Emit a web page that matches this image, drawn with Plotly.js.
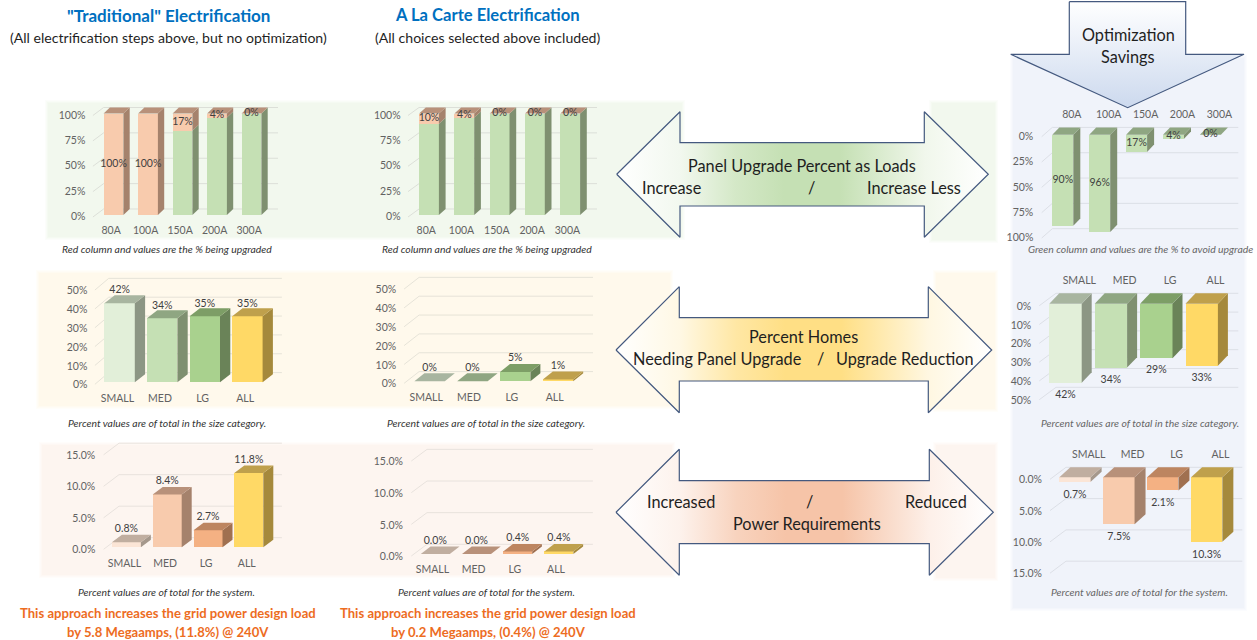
<!DOCTYPE html>
<html><head><meta charset="utf-8">
<script src="https://cdn.plot.ly/plotly-3.0.1.min.js"></script>
<style>html,body{margin:0;padding:0;background:#fff}#c{width:1257px;height:640px}</style></head>
<body><div id="c"></div>
<script>
// ---------- values ----------
const ampCategories = ['80A','100A','150A','200A','300A'];
const sizeCategories = ['SMALL','MED','LG','ALL'];
const panelTicks = [0,25,50,75,100];
const homesTicks = [0,10,20,30,40,50];
const powerTicks = [0,5,10,15];

const tradUpgradedPct = [100,100,17,4,0];
const tradKeptPct     = [0,0,83,96,100];
const carteUpgradedPct = [10,4,0,0,0];
const carteKeptPct     = [90,96,100,100,100];
const savingsPanelPct  = [90,96,17,4,0];

const tradHomesPct    = [42,34,35,35];
const carteHomesPct   = [0,0,5,1];
const savingsHomesPct = [42,34,29,33];

const tradPowerPct    = [0.8,8.4,2.7,11.8];
const cartePowerPct   = [0.0,0.0,0.4,0.4];
const savingsPowerPct = [0.7,7.5,2.1,10.3];

// ---------- styles ----------
const W=1257,H=640, FONT='Lato, Carlito, sans-serif';
const TICK='#626262', LABEL='#404040';
const RED ={f:'#f8cbad',s:'#a5826c',t:'#b8917a'};
const GRN ={f:'#c5e0b4',s:'#7f9070',t:'#8fa682'};
const GSM ={f:'#e2efd9',s:'#8c9684',t:'#a8b5a0'};
const GLG ={f:'#a9d18e',s:'#6a8358',t:'#7d9e66'};
const YEL ={f:'#ffd966',s:'#a5893c',t:'#bfa04c'};
const RSM ={f:'#fbe5d6',s:'#a5988c',t:'#c0aea0'};
const RLG ={f:'#f4b183',s:'#a07050',t:'#bd8560'};
const homesStyle=[GSM,GRN,GLG,YEL], powerStyle=[RSM,RED,RLG,YEL];
const pct0=v=>v+'%', pct1=v=>v.toFixed(1)+'%';

// ---------- geometry of the nine small charts (pixels on the page) ----------
const charts=[
 {cats:ampCategories,ticks:panelTicks,fmt:pct0,stack:[[tradKeptPct,()=>GRN],[tradUpgradedPct,()=>RED]],labelVals:tradUpgradedPct,labelMode:'midTop',tickDy:1.5,
  c0:113.5,pitch:34.5,w:19.8,dx:6.3,fdy:6,y0:215,scale:1.015,gdy:6,gx0:92.9,gx1:103.6,gR:278,labR:83.4,xShift:-2.4,xLabY:230,grid:'#dcdfd8'},
 {cats:ampCategories,ticks:panelTicks,fmt:pct0,stack:[[carteKeptPct,()=>GRN],[carteUpgradedPct,()=>RED]],labelVals:carteUpgradedPct,labelMode:'midTop',tickDy:1.5,
  c0:429,pitch:35.3,w:19.8,dx:6.7,fdy:6,y0:215,scale:1.015,gdy:6,gx0:408,gx1:419,gR:597,labR:398.6,xShift:-2.8,xLabY:230,grid:'#dcdfd8'},
 {cats:ampCategories,ticks:panelTicks,fmt:pct0,stack:[[savingsPanelPct,()=>GRN]],labelVals:savingsPanelPct,labelMode:'mid',invert:true,tickDy:1.5,
  c0:1062.8,pitch:36.9,w:21,dx:7,fdy:7.3,y0:134.7,scale:1.013,gdy:7.3,gx0:1041.7,gx1:1052.3,gR:1238.3,labR:1031.3,xShift:9,xLabY:114,grid:'#dcdfe6'},
 {cats:sizeCategories,ticks:homesTicks,fmt:pct0,stack:[[tradHomesPct,i=>homesStyle[i]]],labelVals:tradHomesPct,labelMode:'above',off:12.3,tickDy:2.5,
  c0:119.6,pitch:42.6,w:30.4,dx:10.3,fdy:8,y0:382.3,scale:1.885,gdy:9.7,gx0:94.9,gx1:108.7,gR:281.9,labR:85.4,xShift:-2.2,xLabY:398.3,grid:'#e6e3d8'},
 {cats:sizeCategories,ticks:homesTicks,fmt:pct0,stack:[[carteHomesPct,i=>homesStyle[i]]],labelVals:carteHomesPct,labelMode:'above',off:13.4,tickDy:2.5,
  c0:429.6,pitch:42.8,w:30.4,dx:10,fdy:8,y0:381.3,scale:1.885,gdy:9.7,gx0:404.1,gx1:419.1,gR:593,labR:394.2,xShift:-3.4,xLabY:397.3,grid:'#e6e3d8'},
 {cats:sizeCategories,ticks:homesTicks,fmt:pct0,stack:[[savingsHomesPct,i=>homesStyle[i]]],labelVals:savingsHomesPct,labelMode:'below',off:12.5,invert:true,tickDy:2.5,
  c0:1065.5,pitch:45.4,w:32.4,dx:10,fdy:10.4,y0:303.7,scale:1.88,gdy:10.4,gx0:1039.3,gx1:1056,gR:1238.3,labR:1029.3,xShift:13.8,xLabY:279.7,grid:'#dcdfe6'},
 {cats:sizeCategories,ticks:powerTicks,fmt:pct1,stack:[[tradPowerPct,i=>powerStyle[i]]],labelVals:tradPowerPct,labelMode:'above',off:12.8,tickDy:2.5,
  c0:126.4,pitch:40.8,w:29,dx:10,fdy:7.5,y0:547.3,scale:6.3,gdy:9.6,gx0:103.6,gx1:119,gR:281.9,labR:93.3,xShift:-2,xLabY:563,grid:'#e8e2dd'},
 {cats:sizeCategories,ticks:powerTicks,fmt:pct1,stack:[[cartePowerPct,i=>powerStyle[i]]],labelVals:cartePowerPct,labelMode:'above',off:13,tickDy:2.5,
  c0:435.3,pitch:41.2,w:29,dx:9.7,fdy:7.5,y0:554,scale:6.33,gdy:9.7,gx0:411.3,gx1:427,gR:592.9,labR:400.9,xShift:-2.9,xLabY:569.7,grid:'#e8e2dd'},
 {cats:sizeCategories,ticks:powerTicks,fmt:pct1,stack:[[savingsPowerPct,i=>powerStyle[i]]],labelVals:savingsPowerPct,labelMode:'below',off:13.3,invert:true,tickDy:2.5,
  c0:1075,pitch:43.9,w:31.3,dx:11,fdy:10,y0:477.3,scale:6.26,gdy:10,gx0:1050,gx1:1066,gR:1242.3,labR:1040,xShift:13.7,xLabY:454,grid:'#dcdfe6'}
];

// ---------- build ----------
const traces=[], shapes=[], annotations=[];
const layout={width:W,height:H,margin:{l:0,r:0,t:0,b:0},paper_bgcolor:'#fff',plot_bgcolor:'rgba(0,0,0,0)',
  showlegend:false,barmode:'stack',bargap:0,hovermode:false,font:{family:FONT,color:TICK},
  xaxis:{domain:[0,1],range:[0,W],visible:false,fixedrange:true},
  yaxis:{domain:[0,1],range:[H,0],visible:false,fixedrange:true}};

function mix(hex,t){const n=parseInt(hex.slice(1),16),c=[n>>16,(n>>8)&255,n&255].map(v=>Math.round(255+(v-255)*t));return `rgb(${c[0]},${c[1]},${c[2]})`;}
function panel(x0,y0,x1,y1,col){
  const steps=[[3,.25],[2,.5],[1,.75],[0,1]];
  steps.forEach(([g,t])=>shapes.push({type:'rect',xref:'paper',yref:'paper',layer:'below',
    x0:(x0-g)/W,x1:(x1+g)/W,y0:1-(y1+g)/H,y1:1-(y0-g)/H,fillcolor:mix(col,t),line:{width:0}}));
}
panel(48,103,682,237,'#f2f8ee'); panel(932,103,995,240,'#f2f8ee');
panel(39,273,670,406,'#fff9ec'); panel(936,273,995,409,'#fff9ec');
panel(42,445,672,575,'#fdf5f0'); panel(936,445,995,578,'#fdf5f0');
panel(1013,58,1244,608,'#f0f3fa');

function hArrow(tipL,backL,backR,tipR,yTop,shTop,yMid,shBot,yBot,col){
  traces.push({x:[tipL,backL,backL,backR,backR,tipR,backR,backR,backL,backL,tipL],
    y:[yMid,yTop,shTop,shTop,yTop,yMid,yBot,shBot,shBot,yBot,yMid],
    type:'scatter',mode:'lines',fill:'toself',line:{color:'#44597f',width:1.2},
    fillgradient:{type:'horizontal',colorscale:[[0,'#ffffff'],[.17,mix(col,.22)],[.32,mix(col,.75)],[.45,col],[.6,col],[.68,mix(col,.75)],[.83,mix(col,.25)],[1,'#ffffff']]},hoverinfo:'skip'});
}
hArrow(616.7,680,924.3,988.3,111.7,142.7,174.3,206,237.3,'#c5e0b4');
hArrow(616,679.3,928.3,991.7,286.7,317.7,350,381,412.7,'#ffdf85');
hArrow(616,679.3,929.3,993.3,449.3,480.7,512.3,543.7,575.3,'#f6c4a8');
traces.push({x:[1069.3,1185.7,1185.7,1244,1127.7,1010.7,1069.3,1069.3],y:[1.7,1.7,54.3,54.3,107.7,54.3,54.3,1.7],
  type:'scatter',mode:'lines',fill:'toself',line:{color:'#44597f',width:1.2},
  fillgradient:{type:'vertical',colorscale:[[0,'#ccd9ee'],[1,'#ffffff']]},hoverinfo:'skip'});

charts.forEach((c,k)=>{
  const id=k+2, xa='x'+id, ya='y'+id, sign=c.invert?-1:1;
  const X=px=>(px-c.c0)/c.pitch;
  const up=(v,px)=>v+sign*px/c.scale;          // value shifted px pixels upward on the page
  const pxToV=py=>sign*(c.y0-py)/c.scale;
  const xL=c.labR+3, xR=c.gR+1;
  const maxT=c.ticks[c.ticks.length-1];
  let yTop,yBot;
  if(c.invert){yTop=c.xLabY+7;yBot=c.y0+maxT*c.scale+6;}
  else{yBot=c.xLabY-8;yTop=c.y0-maxT*c.scale-c.gdy-3;}
  layout['xaxis'+id]={domain:[xL/W,xR/W],range:[X(xL),X(xR)],anchor:ya,side:c.invert?'top':'bottom',fixedrange:true,
    tickmode:'array',tickvals:c.cats.map((_,i)=>i+c.xShift/c.pitch),ticktext:c.cats,ticks:'',showgrid:false,zeroline:false,showline:false,
    tickfont:{size:10.5,color:TICK,family:FONT}};
  layout['yaxis'+id]={domain:[1-yBot/H,1-yTop/H],range:[pxToV(yBot),pxToV(yTop)],anchor:xa,fixedrange:true,
    tickmode:'array',tickvals:c.ticks.map(v=>up(v,-c.tickDy)),ticktext:c.ticks.map(c.fmt),ticks:'',showgrid:false,zeroline:false,showline:false,
    tickfont:{size:10.5,color:TICK,family:FONT}};
  // perspective gridlines
  c.ticks.forEach(v=>{
    shapes.push({type:'path',xref:xa,yref:ya,layer:'below',line:{color:c.grid,width:1},
      path:`M ${X(c.gx0)} ${up(v,-2)} L ${X(c.gx1)} ${up(v,c.gdy)} L ${X(c.gR)} ${up(v,c.gdy)}`});
  });
  // bars and their side / top faces
  const n=c.cats.length, hw=c.w/2/c.pitch, ddx=c.dx/c.pitch;
  const cum=new Array(n).fill(0);
  const polys=[];
  c.stack.forEach(([vals,style])=>{
    traces.push({type:'bar',x:vals.map((_,i)=>i),y:vals,width:c.w/c.pitch,xaxis:xa,yaxis:ya,
      marker:{color:vals.map((_,i)=>style(i).f),line:{width:0}},hoverinfo:'skip'});
    vals.forEach((v,i)=>{
      if(v>0){polys.push({col:style(i).s,x:[i+hw,i+hw+ddx,i+hw+ddx,i+hw],
        y:[cum[i],up(cum[i],c.fdy),up(cum[i]+v,c.fdy),cum[i]+v]});}
      cum[i]+=v;
    });
  });
  // top face: on the uppermost stacked series (still shown when it is zero)
  const topStyle=c.stack[c.stack.length-1][1];
  for(let i=0;i<n;i++){
    const T=c.invert?0:cum[i];
    polys.push({col:topStyle(i).t,x:[i-hw,i+hw,i+hw+ddx,i-hw+ddx],y:[T,T,up(T,c.fdy),up(T,c.fdy)]});
  }
  polys.forEach(p=>traces.push({type:'scatter',mode:'lines',x:p.x.concat(p.x[0]),y:p.y.concat(p.y[0]),fill:'toself',
    fillcolor:p.col,line:{width:0,color:p.col},xaxis:xa,yaxis:ya,hoverinfo:'skip'}));
  // value labels
  traces.push({type:'scatter',mode:'text',xaxis:xa,yaxis:ya,cliponaxis:false,hoverinfo:'skip',
    x:c.labelVals.map((_,i)=>i),
    y:c.labelVals.map((v,i)=>{
      if(c.labelMode==='midTop') return 100-v/2;
      if(c.labelMode==='mid') return v/2;
      if(c.labelMode==='above') return up(v,c.off);
      return up(v,-c.off);}),
    text:c.labelVals.map(c.fmt),textposition:'middle center',textfont:{size:10.5,color:LABEL,family:FONT}});
});

function note(t,x,y,size,color,opt){opt=opt||{};
  let s=t; if(opt.b)s='<b>'+s+'</b>'; if(opt.i)s='<i>'+s+'</i>';
  annotations.push({text:s,x:x/W,y:1-y/H,xref:'paper',yref:'paper',xanchor:'center',yanchor:'middle',showarrow:false,
    font:{size,color,family:FONT},bgcolor:'rgba(0,0,0,0)'});
}
const BLUE='#0070c0',DARK='#1f1f1f',ORG='#ed6d1f';
note('"Traditional" Electrification',168,15.5,17,BLUE,{b:1});
note('(All electrification steps above, but no optimization)',168,37.5,14.1,DARK);
note('A La Carte Electrification',487.5,15.5,16.6,BLUE,{b:1});
note('(All choices selected above included)',487.5,37.5,14.1,DARK);
note('Optimization',1128.3,34.5,16.3,DARK); note('Savings',1128.3,56.2,16.3,DARK);
note('Panel Upgrade Percent as Loads',801.7,165.5,16.3,DARK);
note('Increase',671.7,187.5,16.3,DARK); note('/',811.7,187.5,16.3,DARK); note('Increase Less',914,187.5,16.3,DARK);
note('Percent Homes',803.3,336.5,16.3,DARK);
note('Needing Panel Upgrade',717.3,358,16.3,DARK); note('/',820,358,16.3,DARK); note('Upgrade Reduction',904.7,358,16.3,DARK);
note('Increased',681.3,501,16.3,DARK); note('/',810,501,16.3,DARK); note('Reduced',936.3,501,16.3,DARK);
note('Power Requirements',807.3,523,16.3,DARK);
const CAP='#333333',CAPR='#666666';
note('Red column and values are the % being upgraded',167.3,249.3,10.4,CAP,{i:1});
note('Red column and values are the % being upgraded',487.1,249.3,10.4,CAP,{i:1});
note('Green column and values are the % to avoid upgrade',1140.5,249.3,10.4,CAPR,{i:1});
note('Percent values are of total in the size category.',167.3,422.7,10.4,CAP,{i:1});
note('Percent values are of total in the size category.',486.3,422.7,10.4,CAP,{i:1});
note('Percent values are of total in the size category.',1139.5,422.7,10.4,CAPR,{i:1});
note('Percent values are of total for the system.',166.7,591.7,10.4,CAP,{i:1});
note('Percent values are of total for the system.',486.3,591.7,10.4,CAP,{i:1});
note('Percent values are of total for the system.',1139,591.7,10.4,CAPR,{i:1});
note('This approach increases the grid power design load',168,613,13.1,ORG,{b:1});
note('by 5.8 Megaamps, (11.8%) @ 240V',168,632,13.1,ORG,{b:1});
note('This approach increases the grid power design load',488,613,13.1,ORG,{b:1});
note('by 0.2 Megaamps, (0.4%) @ 240V',488,632,13.1,ORG,{b:1});

layout.shapes=shapes; layout.annotations=annotations;
Plotly.newPlot('c',traces,layout,{displayModeBar:false,staticPlot:true});
</script></body></html>
